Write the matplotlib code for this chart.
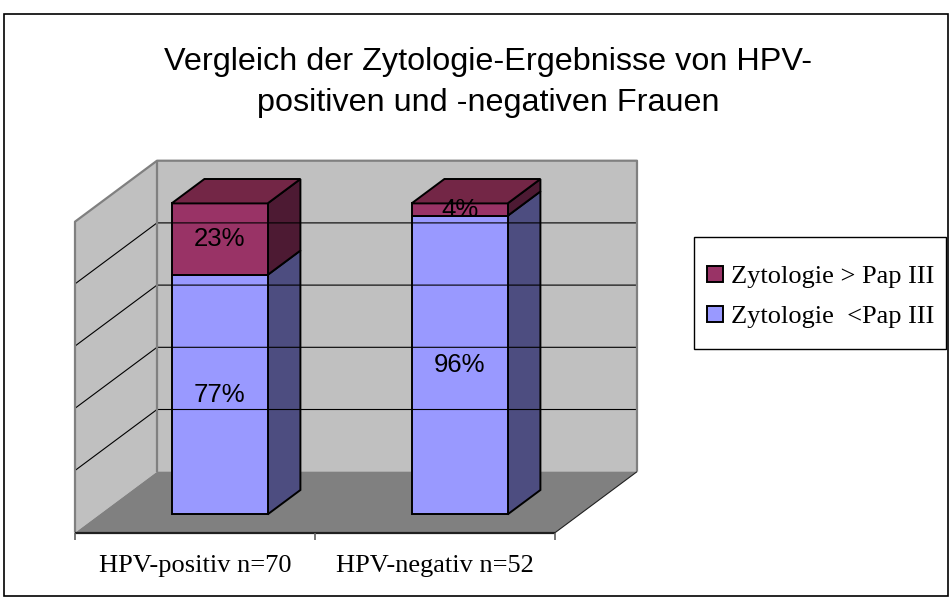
import matplotlib.pyplot as plt
from matplotlib.patches import Rectangle

# Daten (Anteile in %)
gruppen = ['HPV-positiv n=70', 'HPV-negativ n=52']
unter_pap3 = [77, 96]   # Zytologie <Pap III
ueber_pap3 = [23, 4]    # Zytologie > Pap III
serien = ['Zytologie > Pap III', 'Zytologie  <Pap III']
y_gitter = [0, 20, 40, 60, 80, 100]

# Farben wie im Excel-Original
front = {'unten': '#9999FF', 'oben': '#993366'}
seite = {'unten': '#4D4D80', 'oben': '#4D1A33'}
deckel = {'unten': '#7373BF', 'oben': '#732646'}

# Pixel-Kalibrierung fuer 952x597
W, H = 952, 597
X0, KAT = 75, 240          # linke vordere Bodenkante, Pixel pro Kategorie
Y0, PROZ = 532.7, 3.11     # vordere Bodenkante, Pixel pro Prozent
DX, DY = 82 / KAT, 61 / PROZ   # Tiefenversatz in Dateneinheiten

fig = plt.figure(figsize=(W / 100, H / 100), dpi=100)
ax = fig.add_axes([0, 0, 1, 1])
ax.set_xlim(-X0 / KAT, (W - X0) / KAT)
ax.set_ylim((Y0 - H) / PROZ, Y0 / PROZ)
ax.axis('off')


def p(x, v, z):
    return (x + z * DX, v + z * DY)


def flaeche(punkte, **kw):
    xs, ys = zip(*punkte)
    ax.fill(xs, ys, **kw)


def linie(punkte, **kw):
    xs, ys = zip(*punkte)
    ax.plot(xs, ys, solid_capstyle='butt', **kw)


n = len(gruppen)
vmax = y_gitter[-1]

# Waende und Boden
flaeche([p(0, 0, 1), p(n, 0, 1), p(n, vmax, 1), p(0, vmax, 1)], fc='#C0C0C0', ec='none')
flaeche([p(0, 0, 0), p(0, vmax, 0), p(0, vmax, 1), p(0, 0, 1)], fc='#C0C0C0', ec='none')
flaeche([p(0, 0, 0), p(n, 0, 0), p(n, 0, 1), p(0, 0, 1)], fc='#808080', ec='none')

for v in y_gitter[1:-1]:
    linie([p(0, v, 0), p(0, v, 1), p(n, v, 1)], color='black', lw=0.8)

grau = dict(color='#808080', lw=1.6)
linie([p(0, 0, 0), p(0, vmax, 0), p(0, vmax, 1), p(n, vmax, 1), p(n, 0, 1)], **grau)
linie([p(0, 0, 1), p(0, vmax, 1)], **grau)
linie([p(n, 0, 1), p(n, 0, 0)], color='#202020', lw=0.8)
linie([p(0, 0, 0), p(n, 0, 0)], color='#202020', lw=1.6)

# Achsenstriche und Kategorien
for i in range(n + 1):
    linie([p(i, 0, 0), p(i, -2.3, 0)], color='#606060', lw=1.2)
for i, name in enumerate(gruppen):
    ax.text(i + 0.5, -10.8, name, ha='center', va='center',
            fontsize=19, family='Liberation Serif')

# Gestapelte 3D-Balken
z0, z1 = 0.3, 0.7
for i in range(n):
    x0, x1 = i + 0.3, i + 0.7
    segmente = [(0, unter_pap3[i], 'unten'),
                (unter_pap3[i], unter_pap3[i] + ueber_pap3[i], 'oben')]
    for a, b, s in segmente:
        rand = dict(ec='black', lw=1.4, joinstyle='miter')
        flaeche([p(x1, a, z0), p(x1, a, z1), p(x1, b, z1), p(x1, b, z0)], fc=seite[s], **rand)
        flaeche([p(x0, a, z0), p(x1, a, z0), p(x1, b, z0), p(x0, b, z0)], fc=front[s], **rand)
        wert = b - a
        ax.text(*p(i + 0.5, (a + b) / 2, z0), f'{wert}%', ha='center', va='center',
                fontsize=18.5, family='Liberation Sans')
    top = segmente[-1][1]
    flaeche([p(x0, top, z0), p(x1, top, z0), p(x1, top, z1), p(x0, top, z1)],
            fc=deckel['oben'], ec='black', lw=1.4, joinstyle='miter')

# Titel
titel = ['Vergleich der Zytologie-Ergebnisse von HPV-', 'positiven und -negativen Frauen']
for k, zeile in enumerate(titel):
    fig.text(488 / W, 1 - (70 + 41 * k) / H, zeile, ha='center', va='baseline',
             fontsize=23.3, family='Liberation Sans')

# Legende (von Hand, feste Box)
fig.add_artist(Rectangle((694 / W, 1 - 349 / H), 252 / W, 112 / H, transform=fig.transFigure,
                         fc='white', ec='black', lw=1.0))
farben = [front['oben'], front['unten']]
for k, (name, farbe) in enumerate(zip(serien, farben)):
    yc = 274 + 40 * k
    fig.add_artist(Rectangle((707 / W, 1 - (yc + 8) / H), 16 / W, 16 / H,
                             transform=fig.transFigure, fc=farbe, ec='black', lw=1.4))
    fig.text(731 / W, 1 - yc / H, name, ha='left', va='center_baseline',
             fontsize=19, family='Liberation Serif')

# Rahmen
fig.add_artist(Rectangle((4 / W, 1 - 596 / H), 944 / W, 582 / H, transform=fig.transFigure,
                         fill=False, ec='black', lw=1.2))

fig.savefig('out.png', dpi=100)
